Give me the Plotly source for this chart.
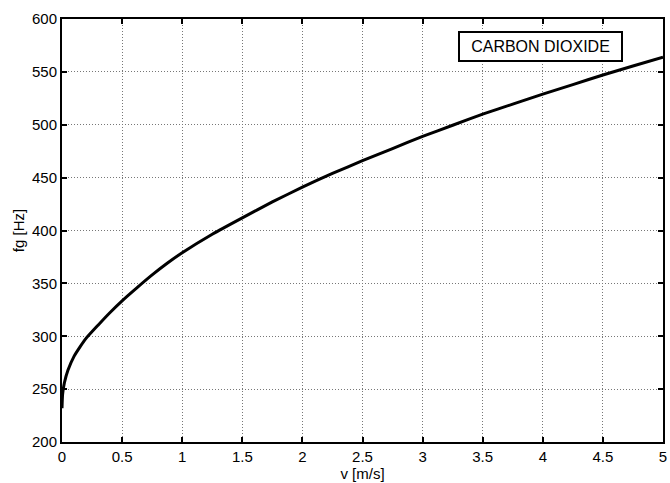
import plotly.graph_objects as go

v = [0, 0.005, 0.02, 0.05, 0.1, 0.15, 0.2, 0.3, 0.4, 0.5, 0.625, 0.75, 0.875, 1,
     1.25, 1.5, 1.75, 2, 2.25, 2.5, 2.75, 3, 3.25, 3.5, 3.75, 4, 4.25, 4.5, 4.75, 5]
fg = [232, 245, 256, 268, 281, 290, 298, 310.5, 322.5, 333.5, 346, 358, 369, 379,
      396.5, 412, 427, 441, 454, 466, 477.5, 489, 499.5, 510, 519.5, 529, 538, 547, 555.5, 564]

x_ticks = [0, 0.5, 1, 1.5, 2, 2.5, 3, 3.5, 4, 4.5, 5]
x_labels = ["0", "0.5", "1", "1.5", "2", "2.5", "3", "3.5", "4", "4.5", "5"]
y_ticks = [200, 250, 300, 350, 400, 450, 500, 550, 600]

font_family = "Liberation Sans, Arial, sans-serif"

fig = go.Figure()
fig.add_trace(go.Scatter(x=v, y=fg, mode="lines", line=dict(color="black", width=3, shape="spline", smoothing=0.5),
                         showlegend=False))

axis_common = dict(
    showline=True, linecolor="black", linewidth=2, mirror="ticks",
    ticks="inside", ticklen=5, tickwidth=2, tickcolor="black",
    showgrid=True, gridcolor="#777777", gridwidth=1, griddash="1px,2px",
    zeroline=False,
    tickfont=dict(family=font_family, size=15, color="black"),
)

fig.update_xaxes(range=[0, 5], tickvals=x_ticks, ticktext=x_labels,
                 title=dict(text="v [m/s]", font=dict(family=font_family, size=15, color="black"), standoff=0),
                 **axis_common)
fig.update_yaxes(range=[200, 600], tickvals=y_ticks,
                 title=dict(text="fg [Hz]", font=dict(family=font_family, size=15, color="black"), standoff=4),
                 **axis_common)

fig.add_annotation(x=0.796, y=0.934, xref="paper", yref="paper", xanchor="center", yanchor="middle",
                   text="CARBON DIOXIDE", showarrow=False,
                   font=dict(family=font_family, size=16, color="black"),
                   bordercolor="black", borderwidth=2, borderpad=5, bgcolor="white", width=151)

fig.update_layout(
    width=670, height=483,
    margin=dict(l=62, r=3, t=19, b=41),
    plot_bgcolor="white", paper_bgcolor="white",
)

fig.write_html("out.html")
